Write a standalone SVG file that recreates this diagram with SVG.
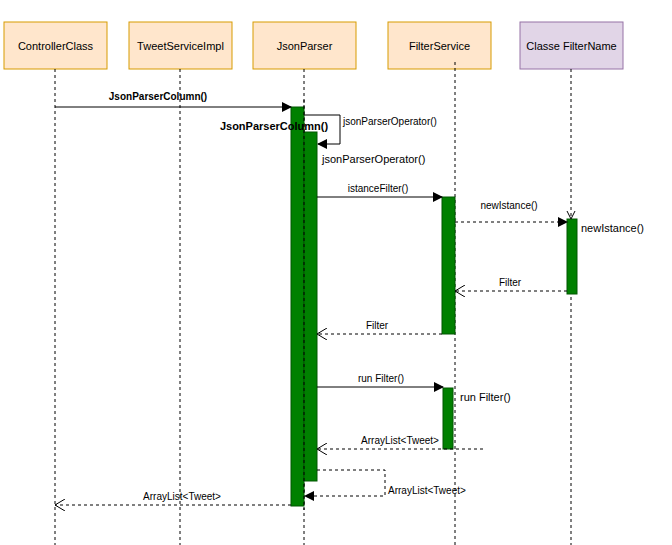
<svg xmlns="http://www.w3.org/2000/svg" width="672" height="545" viewBox="0 0 672 545">
<style>
.box{fill:#ffe6cc;stroke:#d79b00;stroke-width:1}
.boxp{fill:#e1d5e7;stroke:#9673a6;stroke-width:1}
.lbl{font-family:"Liberation Sans",Arial,sans-serif;font-size:11px;fill:#000;text-anchor:middle}
.life{stroke:#000;stroke-width:1;stroke-dasharray:3 3;fill:none}
.act{fill:#008000;stroke:#005700;stroke-width:1}
.msg{stroke:#000;stroke-width:1;fill:none}
.ret{stroke:#000;stroke-width:1;fill:none;stroke-dasharray:3 3}
.t{font-family:"Liberation Sans",Arial,sans-serif;font-size:10px;fill:#000}
.tb{font-family:"Liberation Sans",Arial,sans-serif;font-size:11px;fill:#000}
</style>
<defs>
<marker id="fill" markerWidth="10" markerHeight="10" refX="9" refY="5" orient="auto" markerUnits="userSpaceOnUse"><path d="M0,0 L10,5 L0,10 Z" fill="#000"/></marker>
<marker id="open" markerWidth="10" markerHeight="12" refX="10" refY="6" orient="auto" markerUnits="userSpaceOnUse"><path d="M0,0 L10,6 L0,12" fill="none" stroke="#000"/></marker>
</defs>
<rect width="672" height="545" fill="#fff"/>
<g id="controller">
<rect class="box" x="4" y="22" width="103" height="47"/>
<text class="lbl" x="55.5" y="49.5">ControllerClass</text>
<line class="life" x1="55" y1="69" x2="55" y2="545"/>
</g>
<g id="tweetservice">
<rect class="box" x="129" y="22" width="103" height="47"/>
<text class="lbl" x="180.5" y="49.5">TweetServiceImpl</text>
<line class="life" x1="180" y1="69" x2="180" y2="545"/>
</g>
<g id="jsonparser">
<rect class="box" x="253" y="22" width="103" height="47"/>
<text class="lbl" x="304.5" y="49.5">JsonParser</text>
<line class="life" x1="304" y1="69" x2="304" y2="545"/>
</g>
<g id="filterservice">
<rect class="box" x="388" y="22" width="103" height="47"/>
<text class="lbl" x="439.5" y="49.5">FilterService</text>
<line class="life" x1="455" y1="62" x2="455" y2="545"/>
</g>
<g id="filtername">
<rect class="boxp" x="520" y="22" width="103" height="47"/>
<text class="lbl" x="571.5" y="49.5">Classe FilterName</text>
<line class="life" x1="571" y1="69" x2="571" y2="545"/>
</g>
<g id="activations">
<rect class="act" x="291" y="107" width="13" height="399"/>
<rect class="act" x="304" y="132" width="13" height="349"/>
<rect class="act" x="442" y="197" width="13" height="137"/>
<rect class="act" x="567" y="219" width="10" height="75"/>
<rect class="act" x="443" y="388" width="10" height="61"/>
<line class="life" x1="304" y1="100" x2="304" y2="510"/>
</g>
<g id="connectors">
<line class="msg" x1="55" y1="107" x2="291" y2="107" marker-end="url(#fill)"/>
<polyline class="msg" points="304,115 340,115 340,144 318,144" marker-end="url(#fill)"/>
<line class="msg" x1="317" y1="197" x2="442" y2="197" marker-end="url(#fill)"/>
<line class="ret" x1="455" y1="222" x2="567" y2="222" marker-end="url(#fill)"/>
<path d="M567,211 L571,219 L575,211" fill="none" stroke="#000"/>
<line class="ret" x1="567" y1="291" x2="455" y2="291" marker-end="url(#open)"/>
<line class="ret" x1="442" y1="334" x2="317" y2="334" marker-end="url(#open)"/>
<line class="msg" x1="317" y1="387" x2="443" y2="387" marker-end="url(#fill)"/>
<line class="ret" x1="483" y1="449" x2="317" y2="449" marker-end="url(#open)"/>
<polyline class="ret" points="317,470 385,470 385,496 305,496" marker-end="url(#fill)"/>
<line class="ret" x1="291" y1="505" x2="55" y2="505" marker-end="url(#open)"/>
</g>
<g id="labels">
<text class="t" x="158" y="100" text-anchor="middle" font-weight="bold">JsonParserColumn()</text>
<text class="t" x="343" y="125">jsonParserOperator()</text>
<text class="tb" x="274" y="130" text-anchor="middle" font-weight="bold" font-size="12">JsonParserColumn()</text>
<text class="tb" x="322" y="163">jsonParserOperator()</text>
<text class="t" x="378" y="192" text-anchor="middle">istanceFilter()</text>
<text class="t" x="509" y="209" text-anchor="middle">newIstance()</text>
<text class="tb" x="581" y="232">newIstance()</text>
<text class="t" x="510" y="286" text-anchor="middle">Filter</text>
<text class="t" x="377" y="329" text-anchor="middle">Filter</text>
<text class="t" x="381" y="382" text-anchor="middle">run Filter()</text>
<text class="tb" x="460" y="401">run Filter()</text>
<text class="t" x="400" y="444" text-anchor="middle">ArrayList&lt;Tweet&gt;</text>
<text class="t" x="388" y="494">ArrayList&lt;Tweet&gt;</text>
<text class="t" x="182" y="500" text-anchor="middle">ArrayList&lt;Tweet&gt;</text>
</g>
</svg>
